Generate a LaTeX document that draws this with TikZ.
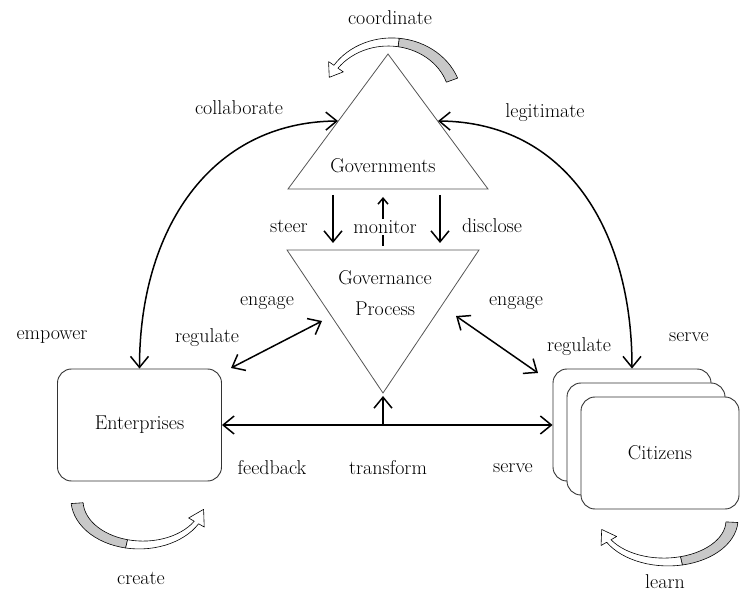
\documentclass[tikz,border=0pt]{standalone}
\definecolor{CurlGray}{HTML}{C8C8C8}
\definecolor{EdgeGray}{HTML}{555555}
\usepackage{tikz}
\usetikzlibrary{arrows.meta,positioning,calc}
\newcommand{\lblfont}{\fontsize{20}{24}\selectfont}

% curved ribbon arrow: centre x, centre y, rx, ry, tail angle, head angle, tip angle
\newcommand{\curl}[7]{%
  \begin{scope}[shift={(#1,#2)},
      declare function={ca(\t)=#5+\t*(#6-#5); hw(\t)=6-3.5*\t;}]
    \filldraw[curl,fill=CurlGray]
      plot[domain=0:0.5,samples=16,variable=\t]
        ({(#3+hw(\t))*cos(ca(\t))},{(#4+hw(\t))*sin(ca(\t))})
      -- plot[domain=0.5:0,samples=16,variable=\t]
        ({(#3-hw(\t))*cos(ca(\t))},{(#4-hw(\t))*sin(ca(\t))}) -- cycle;
    \filldraw[curl,fill=white]
      plot[domain=0.5:1,samples=16,variable=\t]
        ({(#3+hw(\t))*cos(ca(\t))},{(#4+hw(\t))*sin(ca(\t))})
      -- ({(#3+9)*cos(#6)},{(#4+9)*sin(#6)})
      -- ({#3*cos(#7)},{#4*sin(#7)})
      -- ({(#3-9)*cos(#6)},{(#4-9)*sin(#6)})
      -- plot[domain=1:0.5,samples=16,variable=\t]
        ({(#3-hw(\t))*cos(ca(\t))},{(#4-hw(\t))*sin(ca(\t))}) -- cycle;
  \end{scope}}

\begin{document}
\begin{tikzpicture}[x=1pt,y=-1pt,
    lbl/.style={font=\lblfont,inner sep=1pt},
    tri/.style={draw=EdgeGray,line width=0.8pt},
    box/.style={draw=black!80,line width=0.9pt,rounded corners=14pt,
                fill=white,minimum width=164pt,minimum height=112pt,
                font=\lblfont},
    link/.style={line width=1.5pt,
                 -{Straight Barb[length=11pt,width=18pt]}},
    biLink/.style={line width=1.5pt,
                 {Straight Barb[length=11pt,width=18pt]}-{Straight Barb[length=11pt,width=18pt]}},
    curl/.style={draw=black,line width=0.6pt,line join=round}]

  \useasboundingbox (0,0) rectangle (740,596);

  % governments and governance process
  \coordinate (govTop) at (388,54);
  \coordinate (govBL)  at (288,189);
  \coordinate (govBR)  at (488,189);
  \draw[tri] (govTop) -- (govBL) -- (govBR) -- cycle;
  \node[lbl] (gov) at (383,166) {Governments};

  \coordinate (gpTL)  at (287,250);
  \coordinate (gpTR)  at (479,250);
  \coordinate (gpBot) at (383,393);
  \draw[tri] (gpTL) -- (gpTR) -- (gpBot) -- cycle;
  \node[lbl,align=center,font=\fontsize{20}{31}\selectfont] (gp) at (385,293)
    {Governance\\Process};

  % actors
  \node[box] (ent) at (139.5,425) {Enterprises};
  \node[box,minimum width=158pt] (cit1) at (632,425) {};
  \node[box,minimum width=158pt] (cit2) at ($(cit1)+(14,14)$) {};
  \node[box,minimum width=158pt] (cit3) at ($(cit2)+(14,14)$) {Citizens};

  % steer / monitor / disclose
  \foreach \nm/\xx in {steer/333,disc/440}{
    \coordinate (\nm Top) at (\xx,195);
    \coordinate (\nm Bot) at (\xx,243);
    \draw[link] (\nm Top) -- (\nm Bot);
  }
  \coordinate (monTop) at (383,197);
  \coordinate (monBot) at (383,246);
  \draw[line width=1.5pt,-{Straight Barb[length=6pt,width=10pt]}]
    (monBot) -- (monTop);

  % links between actors
  \coordinate (govL) at (338,121);
  \coordinate (govR) at (438,121);
  \draw[biLink] (ent.north) .. controls (139.5,230) and (210,122) .. (govL);
  \draw[biLink] (cit1.north) .. controls (632,230) and (566,122) .. (govR);

  \coordinate (engL1) at (231,368);
  \coordinate (engL2) at (322,321);
  \coordinate (engR1) at (456,316);
  \coordinate (engR2) at (538,373);
  \foreach \a/\b in {engL1/engL2,engR1/engR2}{
    \draw[biLink] (\a) -- (\b);
  }

  \draw[biLink] (ent.east) -- (cit1.west);
  \coordinate (tfBase) at (gpBot |- ent.east);
  \draw[link,shorten >=3pt] (tfBase) -- (gpBot);

  % self loops
  \curl{390}{100}{66}{58}{-20}{-145}{-157}
  \curl{141}{500}{64}{45}{176}{30}{12}
  \curl{666}{520}{66}{42}{3}{150}{167}

  % labels
  \foreach \nm/\xx/\yy/\txt in {
      tCoord/390/18/coordinate, tCollab/239/108/collaborate,
      tLegit/545/113/legitimate, tSteer/289/226/steer,
      tDisc/492/226/disclose, tEngL/267/303/engage,
      tRegL/207/338/regulate, tEngR/516/303/engage,
      tRegR/579/347/regulate, tEmp/52/337/empower,
      tServeT/689/337/serve, tFeed/272/468/feedback,
      tTrans/388/468/transform, tServeB/513/468/serve,
      tCreate/141/578/create}{
    \node[lbl] (\nm) at (\xx,\yy) {\txt};
  }
  \node[lbl,fill=white] (tMon) at (385,227) {monitor};
  \node[lbl,anchor=south] (tLearn) at (665,590) {learn};
\end{tikzpicture}
\end{document}
